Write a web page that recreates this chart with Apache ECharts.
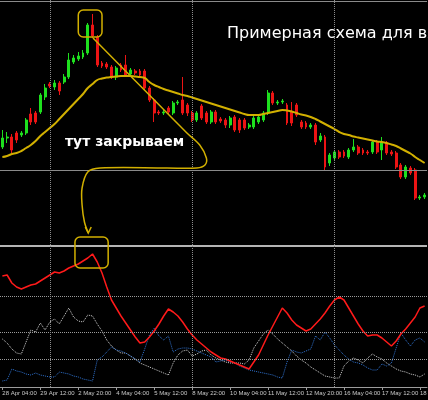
<!DOCTYPE html>
<html>
<head>
<meta charset="utf-8">
<script src="https://cdn.jsdelivr.net/npm/echarts@6/dist/echarts.min.js"></script>
<style>
  html, body { margin: 0; padding: 0; background: #000; }
  #chart { width: 428px; height: 400px; }
</style>
</head>
<body>
<div id="chart"></div>
<script>
// H4 bars: [open, close, low, high]
const candles = [
  [103, 112, 101, 120], [112, 113, 107, 118], [113, 100, 97, 116], [117, 110, 107, 119], [115, 117, 113, 119],
  [117, 130, 115, 132], [136, 128, 125, 142], [137, 128, 126, 139], [138, 155, 136, 157], [153, 162, 150, 166],
  [166, 164, 162, 168], [163, 167, 160, 170], [167, 159, 155, 169], [168, 173, 166, 176], [173, 190, 171, 197],
  [188, 192, 186, 195], [191, 194, 189, 198], [193, 197, 191, 200], [197, 225, 195, 227], [225, 214, 212, 236],
  [213, 185, 183, 215], [187, 184, 182, 189], [186, 183, 181, 188], [183, 173, 171, 185], [173, 182, 170, 184],
  [185, 180, 178, 187], [185, 175, 173, 195], [176, 180, 174, 182], [179, 177, 175, 181], [179, 175, 173, 181],
  [179, 162, 160, 181], [162, 150, 148, 164], [150, 137, 128, 152], [138, 137, 135, 140], [137, 138, 135, 140],
  [142, 138, 136, 144], [137, 147, 135, 149], [147, 148, 145, 150], [150, 137, 135, 173], [145, 137, 134, 147],
  [137, 130, 128, 139], [130, 137, 128, 139], [144, 132, 130, 146], [137, 128, 126, 139], [128, 138, 126, 140],
  [138, 128, 126, 140], [131, 129, 127, 133], [130, 125, 122, 132], [125, 132, 122, 134], [133, 120, 118, 135],
  [130, 120, 117, 132], [130, 122, 120, 132], [123, 125, 121, 127], [123, 132, 121, 134], [128, 133, 126, 135],
  [130, 137, 128, 139], [137, 157, 135, 160], [157, 147, 145, 159], [147, 148, 145, 150], [148, 149, 146, 151],
  [145, 127, 125, 147], [138, 127, 124, 148], [145, 135, 133, 147], [128, 123, 121, 130], [127, 123, 121, 129],
  [123, 125, 121, 127], [125, 108, 105, 127], [110, 114, 108, 117], [113, 83, 80, 115], [87, 95, 84, 97],
  [92, 98, 90, 100], [98, 93, 91, 100], [98, 94, 92, 100], [93, 100, 91, 102], [100, 103, 98, 111],
  [103, 97, 95, 105], [100, 97, 95, 102], [98, 97, 95, 100], [98, 108, 96, 110], [108, 98, 96, 110],
  [100, 108, 90, 113], [107, 97, 95, 109], [98, 96, 94, 100], [97, 83, 81, 99], [85, 73, 71, 87],
  [73, 83, 71, 85], [82, 77, 75, 84], [80, 52, 50, 82], [52, 53, 50, 55], [53, 55, 51, 57]
];

const maValues = [
  93, 94, 96, 97, 99, 102, 105, 109, 114, 118,
  122, 126, 131, 136, 141, 146, 151, 156, 162, 166,
  170, 171.5, 172.5, 173, 173.5, 174, 174, 174, 173.5, 173,
  172, 168, 165, 163, 161, 159.5, 158, 156.5, 155, 154,
  152.5, 151, 149.5, 148, 146.5, 145, 143.5, 142, 140.5, 139,
  137.5, 136, 135, 135, 135, 136, 137, 138, 139, 140,
  139.5, 138.5, 137, 135.5, 134.5, 133, 131, 128.5, 126, 123.5,
  121, 118, 116, 115, 113.5, 112.5, 111.5, 110.5, 109.5, 108.5,
  108, 107, 105.5, 104, 101.5, 99, 96.5, 93, 90, 87
];

// indicator window
const mainLine = [
  111, 112, 104, 100, 98, 100, 102, 103, 106, 109,
  112, 115, 114, 116, 119, 121, 123, 126, 129, 133,
  125, 114, 100, 87, 79, 71, 64, 57, 50, 44,
  45, 50, 56, 63, 71, 78, 75, 71, 65, 58,
  52, 47, 43, 39, 35, 32, 29, 28, 26, 24,
  22, 20, 18, 25, 32, 42, 52, 61, 70, 79,
  74, 67, 62, 59, 56, 58, 63, 68, 74, 81,
  87, 90, 87, 79, 71, 63, 56, 51, 52, 52,
  49, 45, 41, 46, 53, 58, 64, 70, 79, 81
];
const plusLine = [
  48, 44, 38, 34, 33, 45, 57, 55, 64, 57,
  65, 68, 63, 71, 79, 70, 66, 65, 72, 71,
  63, 56, 47, 41, 37, 34, 34, 31, 28, 24,
  22, 20, 18, 16, 14, 12, 24, 32, 36, 37,
  31, 33, 36, 37, 32, 29, 27, 25, 24, 24,
  24, 23, 27, 39, 46, 53, 57, 53, 48, 44,
  40, 36, 31, 27, 24, 20, 17, 14, 11, 10,
  9, 9, 21, 26, 29, 27, 24, 29, 33, 30,
  28, 24, 21, 18, 16, 15, 13, 12, 10, 13
];
const minusLine = [
  6, 7, 18, 16, 15, 13, 12, 14, 12, 11,
  10, 10, 15, 14, 13, 11, 10, 8, 7, 6,
  27, 30, 35, 40, 37, 36, 34, 31, 28, 25,
  38, 52, 59, 51, 47, 51, 35, 38, 39, 39,
  38, 36, 34, 32, 30, 25, 26, 27, 25, 24,
  21, 19, 17, 16, 15, 14, 13, 12, 10, 9,
  25, 37, 35, 34, 36, 38, 51, 47, 55, 49,
  42, 37, 32, 28, 25, 24, 22, 19, 17, 17,
  23, 21, 24, 39, 54, 47, 41, 47, 49, 45
];
const levels = [91, 55, 28];

const tickLabels = ['28 Apr 04:00', '29 Apr 12:00', '2 May 20:00', '4 May 04:00', '5 May 12:00', '8 May 22:00',
  '10 May 04:00', '11 May 12:00', '12 May 20:00', '16 May 04:00', '17 May 12:00', '18 May 20:00'];
const dayLines = [10, 40, 70];
const priceLines = [80, 249];

// hand drawn marks, in [bar, value] of their panel
const topBox = [[16, 240], [21, 213]];
const bottomBox = [[15.3, 150], [22.3, 119]];
const closePath = [[19.1, 212], [29, 164.5], [38.9, 117], [41.6, 105], [43, 92], [42.7, 85], [41, 82],
  [34.7, 82], [20.6, 82], [18, 78], [16.8, 62], [16.8, 45], [17.3, 28], [18.1, 17]];

const categories = candles.map((_, i) => String(i));
const GOLD = '#d2b000';

const chart = echarts.init(document.getElementById('chart'), null, { renderer: 'canvas' });

const vLines = dayLines.map(b => ({ xAxis: b, lineStyle: { color: '#8c8c8c', type: 'dotted', width: 1 } }));

const option = {
  backgroundColor: '#000',
  animation: false,
  grid: [
    { left: 0, right: 1, top: 0, height: 245, outerBoundsMode: 'none' },
    { left: 0, right: 1, top: 245, height: 142, outerBoundsMode: 'none' }
  ],
  xAxis: [
    { type: 'category', gridIndex: 0, data: categories, show: false },
    {
      type: 'category', gridIndex: 1, data: categories,
      axisLine: { lineStyle: { color: '#9c9c9c', width: 1 } },
      axisTick: { show: true, interval: 7, alignWithLabel: true, length: 3, lineStyle: { color: '#9c9c9c' } },
      axisLabel: {
        interval: 7, align: 'left', margin: 3, fontSize: 6, color: '#c8c8c8',
        fontFamily: 'Liberation Sans',
        formatter: (v, i) => tickLabels[i / 8]
      },
      splitLine: { show: false }
    },
    { type: 'value', gridIndex: 0, min: -0.5, max: 89.5, show: false },
    { type: 'value', gridIndex: 1, min: -0.5, max: 89.5, show: false }
  ],
  yAxis: [
    { type: 'value', gridIndex: 0, min: 5, max: 250, show: false },
    { type: 'value', gridIndex: 1, min: 0, max: 142, show: false }
  ],
  series: [
    {
      type: 'candlestick',
      xAxisIndex: 0, yAxisIndex: 0,
      data: candles,
      barWidth: 2.4,
      itemStyle: {
        color: '#1ee01e', color0: '#ec1414',
        borderColor: '#1ee01e', borderColor0: '#ec1414', borderWidth: 1
      },
      markLine: {
        silent: true, symbol: ['none', 'none'], label: { show: false }, animation: false,
        data: priceLines.map(p => ({ yAxis: p, lineStyle: { color: '#8a8a8a', type: 'solid', width: 1 } })).concat(vLines)
      }
    },
    {
      type: 'line',
      xAxisIndex: 0, yAxisIndex: 0,
      data: maValues,
      smooth: true, symbol: 'none',
      lineStyle: { color: GOLD, width: 2 }
    },
    {
      type: 'line',
      xAxisIndex: 1, yAxisIndex: 1,
      data: plusLine,
      symbol: 'none',
      lineStyle: { color: '#cfcfcf', type: 'dotted', width: 1 }
    },
    {
      type: 'line',
      xAxisIndex: 1, yAxisIndex: 1,
      data: minusLine,
      symbol: 'none',
      lineStyle: { color: '#2f72d0', type: 'dotted', width: 1 }
    },
    {
      type: 'line',
      xAxisIndex: 1, yAxisIndex: 1,
      data: mainLine,
      symbol: 'none',
      lineStyle: { color: '#ff1a1a', width: 1.5 },
      markLine: {
        silent: true, symbol: ['none', 'none'], label: { show: false }, animation: false,
        data: levels.map(l => ({ yAxis: l, lineStyle: { color: '#9a9a9a', type: 'dotted', width: 1 } }))
          .concat([{ yAxis: 141, lineStyle: { color: '#b4b4b4', type: 'solid', width: 2 } }])
          .concat(vLines)
      }
    }
  ]
};

chart.setOption(option);

// annotations drawn over the chart
const px = (panel, p) => chart.convertToPixel({ xAxisIndex: panel + 2, yAxisIndex: panel }, p);
const boxShape = (panel, b) => {
  const a = px(panel, b[0]), c = px(panel, b[1]);
  return { x: a[0], y: a[1], width: c[0] - a[0], height: c[1] - a[1], r: 5 };
};
const path = closePath.map(p => px(0, p));
const tip = path[path.length - 1];

chart.setOption({
  graphic: [
    { type: 'rect', shape: boxShape(0, topBox), style: { fill: 'none', stroke: GOLD, lineWidth: 1.5 }, z: 100 },
    { type: 'rect', shape: boxShape(1, bottomBox), style: { fill: 'none', stroke: GOLD, lineWidth: 1.5 }, z: 100 },
    { type: 'polyline', shape: { points: path, smooth: 0.35 }, style: { fill: 'none', stroke: GOLD, lineWidth: 1.5 }, z: 100 },
    {
      type: 'polyline',
      shape: { points: [[tip[0] - 3, tip[1] - 6], tip, [tip[0] + 3, tip[1] - 6]] },
      style: { fill: 'none', stroke: GOLD, lineWidth: 1.5 }, z: 100
    },
    {
      type: 'text', x: 227, y: 26, z: 100,
      style: { text: 'Примерная схема для входа', fill: '#ffffff', fontSize: 16, fontFamily: 'DejaVu Sans' }
    },
    {
      type: 'text', x: 65, y: 135, z: 100,
      style: { text: 'тут закрываем', fill: '#ffffff', fontSize: 14, fontWeight: 'bold', fontFamily: 'DejaVu Sans' }
    }
  ]
});

window.addEventListener('resize', () => chart.resize());
</script>
</body>
</html>
